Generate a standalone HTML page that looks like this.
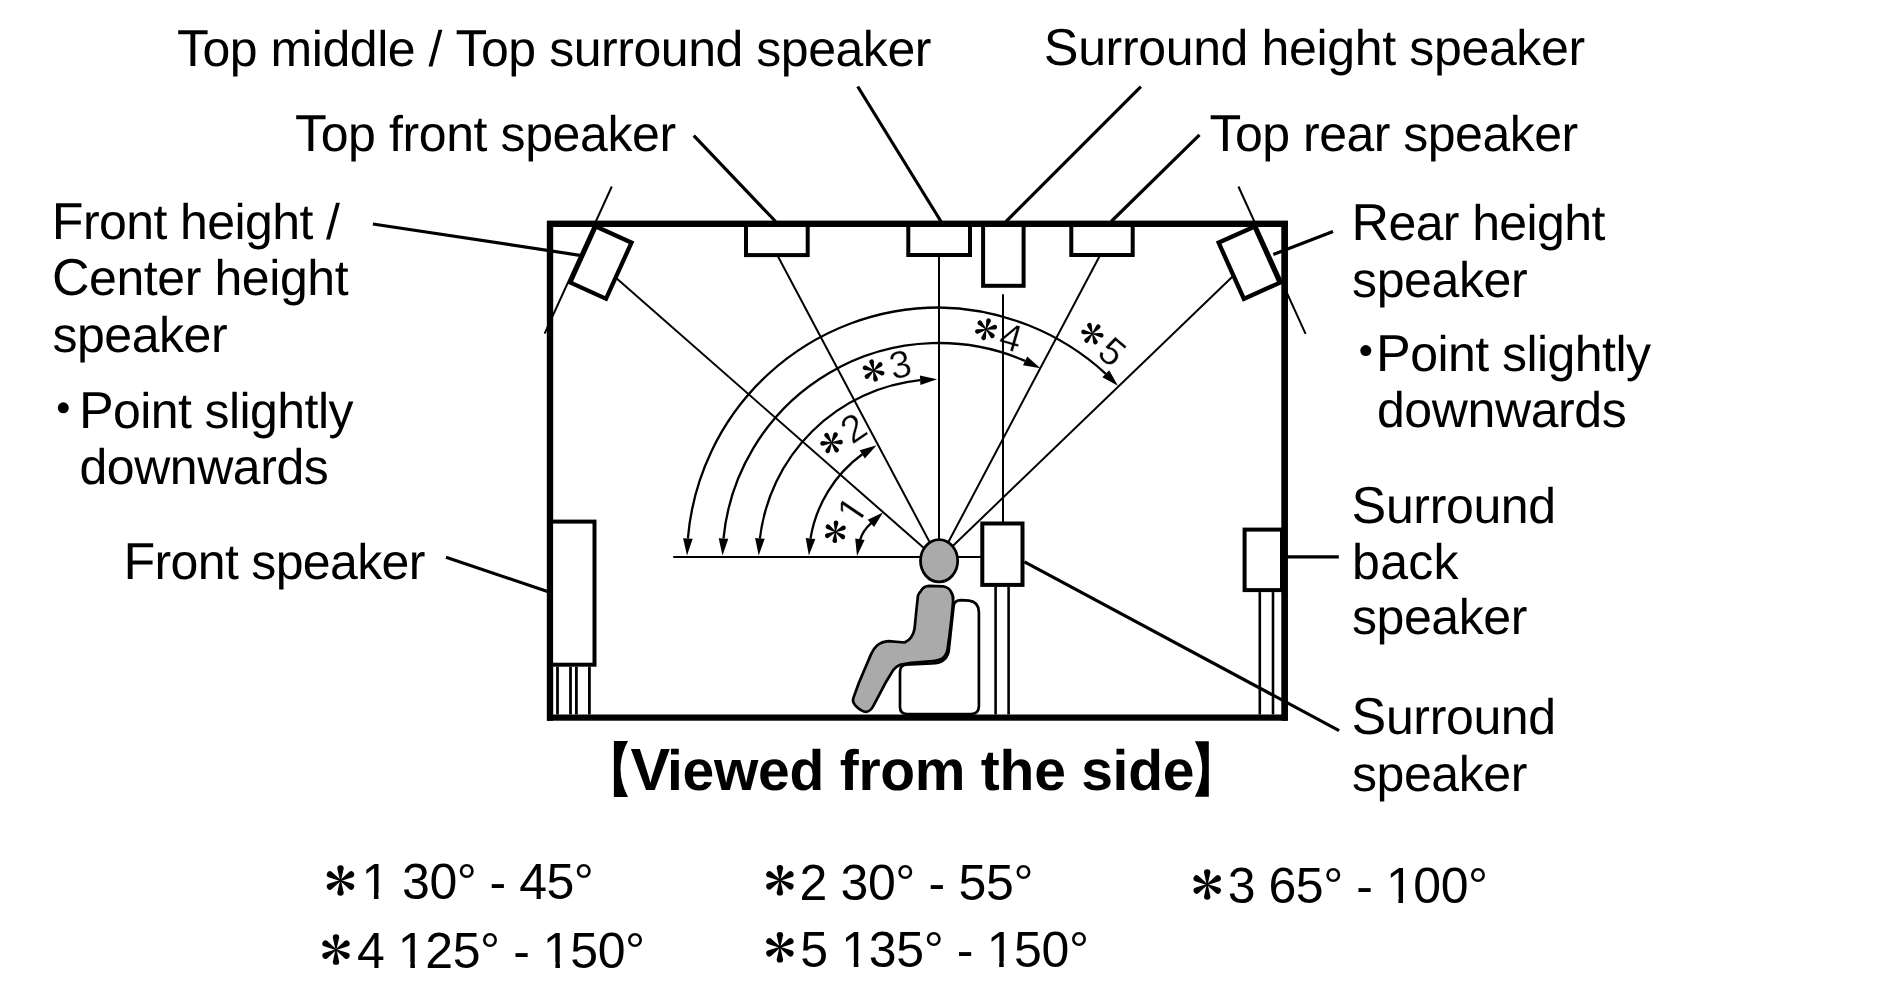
<!DOCTYPE html>
<html><head><meta charset="utf-8"><style>
html,body{margin:0;padding:0;background:#fff;overflow:hidden;}
svg{display:block;}
text{font-family:"Liberation Sans", sans-serif;fill:#000;}
</style></head><body>
<svg width="1904" height="997" viewBox="0 0 1904 997">
<rect width="1904" height="997" fill="#fff"/>
<defs><g id="ast"><path d="M-0.035,0 L-0.205,-0.78 A0.205,0.205 0 1 1 0.205,-0.78 L0.035,0 Z" transform="rotate(0)"/><path d="M-0.035,0 L-0.205,-0.78 A0.205,0.205 0 1 1 0.205,-0.78 L0.035,0 Z" transform="rotate(60)"/><path d="M-0.035,0 L-0.205,-0.78 A0.205,0.205 0 1 1 0.205,-0.78 L0.035,0 Z" transform="rotate(120)"/><path d="M-0.035,0 L-0.205,-0.78 A0.205,0.205 0 1 1 0.205,-0.78 L0.035,0 Z" transform="rotate(180)"/><path d="M-0.035,0 L-0.205,-0.78 A0.205,0.205 0 1 1 0.205,-0.78 L0.035,0 Z" transform="rotate(240)"/><path d="M-0.035,0 L-0.205,-0.78 A0.205,0.205 0 1 1 0.205,-0.78 L0.035,0 Z" transform="rotate(300)"/></g></defs>
<path transform="translate(1112.2,351.9) rotate(40.5)" d="M9.1268310546875 4.4271240234375Q9.1268310546875 8.6192626953125 6.635986328125 11.0255126953125Q4.1451416015625 13.4317626953125 -0.2725830078125 13.4317626953125Q-3.9759521484375 13.4317626953125 -6.2506103515625 11.8150634765625Q-8.5252685546875 10.1983642578125 -9.1268310546875 7.1341552734375L-5.7054443359375 6.7393798828125Q-4.6339111328125 10.6683349609375 -0.1973876953125 10.6683349609375Q2.5284423828125 10.6683349609375 4.0699462890625 9.0234375Q5.6114501953125 7.3785400390625 5.6114501953125 4.5023193359375Q5.6114501953125 2.0020751953125 4.060546875 0.4605712890625Q2.5096435546875 -1.0809326171875 -0.1221923828125 -1.0809326171875Q-1.4945068359375 -1.0809326171875 -2.6788330078125 -0.6485595703125Q-3.8631591796875 -0.2161865234375 -5.0474853515625 0.8177490234375H-8.3560791015625L-7.4725341796875 -13.4317626953125H7.5853271484375V-10.5555419921875H-4.3895263671875L-4.8970947265625 -2.1524658203125Q-2.6976318359375 -3.8443603515625 0.5733642578125 -3.8443603515625Q4.4835205078125 -3.8443603515625 6.80517578125 -1.5509033203125Q9.1268310546875 0.7425537109375 9.1268310546875 4.4271240234375Z" fill="#000" stroke="#fff" stroke-width="0.5"/>
<use href="#ast" transform="translate(1092.4,333.6) rotate(40.50) scale(11.5)"/>
<path transform="translate(1010.9,337.3) rotate(16.0)" d="M5.97802734375 7.2469482421875V13.2437744140625H2.7822265625V7.2469482421875H-9.7001953125V4.6151123046875L2.425048828125 -13.2437744140625H5.97802734375V4.5775146484375H9.7001953125V7.2469482421875ZM2.7822265625 -9.4276123046875Q2.74462890625 -9.3148193359375 2.255859375 -8.4312744140625Q1.76708984375 -7.5477294921875 1.522705078125 -7.1905517578125L-5.263671875 2.8104248046875L-6.27880859375 4.2015380859375L-6.57958984375 4.5775146484375H2.7822265625Z" fill="#000" stroke="#fff" stroke-width="0.5"/>
<use href="#ast" transform="translate(986.1,329.3) rotate(16.00) scale(11.5)"/>
<path transform="translate(900.1,364.5) rotate(-12.8)" d="M9.1268310546875 5.9404296875Q9.1268310546875 9.606201171875 6.7957763671875 11.61767578125Q4.4647216796875 13.629150390625 0.1409912109375 13.629150390625Q-3.8819580078125 13.629150390625 -6.27880859375 11.8150634765625Q-8.6756591796875 10.0009765625 -9.1268310546875 6.447998046875L-5.6302490234375 6.12841796875Q-4.9534912109375 10.828125 0.1409912109375 10.828125Q2.6976318359375 10.828125 4.154541015625 9.568603515625Q5.6114501953125 8.30908203125 5.6114501953125 5.82763671875Q5.6114501953125 3.665771484375 3.94775390625 2.4532470703125Q2.2840576171875 1.24072265625 -0.8553466796875 1.24072265625H-2.7728271484375V-1.69189453125H-0.9305419921875Q1.8516845703125 -1.69189453125 3.3837890625 -2.9044189453125Q4.9158935546875 -4.116943359375 4.9158935546875 -6.260009765625Q4.9158935546875 -8.38427734375 3.665771484375 -9.6156005859375Q2.4156494140625 -10.846923828125 -0.0469970703125 -10.846923828125Q-2.2840576171875 -10.846923828125 -3.665771484375 -9.7001953125Q-5.0474853515625 -8.553466796875 -5.2730712890625 -6.466796875L-8.6756591796875 -6.72998046875Q-8.2996826171875 -9.982177734375 -5.97802734375 -11.8056640625Q-3.6563720703125 -13.629150390625 -0.0093994140625 -13.629150390625Q3.9759521484375 -13.629150390625 6.184814453125 -11.7774658203125Q8.3936767578125 -9.92578125 8.3936767578125 -6.6171875Q8.3936767578125 -4.079345703125 6.974365234375 -2.4908447265625Q5.5550537109375 -0.90234375 2.8480224609375 -0.33837890625V-0.26318359375Q5.8182373046875 0.056396484375 7.4725341796875 1.7294921875Q9.1268310546875 3.402587890625 9.1268310546875 5.9404296875Z" fill="#000" stroke="#fff" stroke-width="0.5"/>
<use href="#ast" transform="translate(873.6,370.5) rotate(-12.76) scale(11.5)"/>
<path transform="translate(853.4,427.9) rotate(-34.2)" d="M-8.7696533203125 13.441162109375V11.0537109375Q-7.8109130859375 8.854248046875 -6.42919921875 7.1717529296875Q-5.0474853515625 5.4892578125 -3.5247802734375 4.1263427734375Q-2.0020751953125 2.763427734375 -0.507568359375 1.597900390625Q0.9869384765625 0.432373046875 2.1900634765625 -0.733154296875Q3.3931884765625 -1.898681640625 4.1357421875 -3.177001953125Q4.8782958984375 -4.455322265625 4.8782958984375 -6.072021484375Q4.8782958984375 -8.252685546875 3.5999755859375 -9.455810546875Q2.3216552734375 -10.658935546875 0.0469970703125 -10.658935546875Q-2.1148681640625 -10.658935546875 -3.515380859375 -9.4840087890625Q-4.9158935546875 -8.30908203125 -5.1602783203125 -6.184814453125L-8.6192626953125 -6.50439453125Q-8.2432861328125 -9.681396484375 -5.921630859375 -11.561279296875Q-3.5999755859375 -13.441162109375 0.0469970703125 -13.441162109375Q4.0511474609375 -13.441162109375 6.20361328125 -11.5518798828125Q8.3560791015625 -9.66259765625 8.3560791015625 -6.184814453125Q8.3560791015625 -4.643310546875 7.651123046875 -3.12060546875Q6.9461669921875 -1.597900390625 5.5550537109375 -0.0751953125Q4.1639404296875 1.447509765625 0.2349853515625 4.643310546875Q-1.9268798828125 6.410400390625 -3.2052001953125 7.8297119140625Q-4.4835205078125 9.2490234375 -5.0474853515625 10.56494140625H8.7696533203125V13.441162109375Z" fill="#000" stroke="#fff" stroke-width="0.5"/>
<use href="#ast" transform="translate(831.6,442.7) rotate(-34.17) scale(11.5)"/>
<path transform="translate(850.7,511.8) rotate(-56.0)" d="M1.29,13.24 L1.29,-10.01 L-4.69,-5.74 L-4.69,-8.94 L1.57,-13.24 L4.69,-13.24 L4.69,13.24Z" fill="#000" stroke="#fff" stroke-width="0.5"/>
<use href="#ast" transform="translate(835.4,531.8) rotate(-56.00) scale(11.5)"/>
<line x1="600.8" y1="264.6" x2="939.0" y2="561.2" stroke="#000" stroke-width="2" stroke-linecap="butt"/>
<line x1="777.2" y1="255.0" x2="939.0" y2="559.8" stroke="#000" stroke-width="2" stroke-linecap="butt"/>
<line x1="939.0" y1="255.0" x2="939.0" y2="560.0" stroke="#000" stroke-width="2" stroke-linecap="butt"/>
<line x1="1100.2" y1="255.0" x2="939.0" y2="559.8" stroke="#000" stroke-width="2" stroke-linecap="butt"/>
<line x1="1249.5" y1="260.3" x2="939.0" y2="559.3" stroke="#000" stroke-width="2" stroke-linecap="butt"/>
<line x1="1003.0" y1="294.2" x2="1003.0" y2="522.0" stroke="#000" stroke-width="2" stroke-linecap="butt"/>
<line x1="673.2" y1="556.9" x2="981.0" y2="556.9" stroke="#000" stroke-width="2" stroke-linecap="butt"/>
<path d="M687.9,538.4 A252.0,252.0 0 0 1 939.00,307.50 A252.07,252.07 0 0 1 1105.8,373.8" fill="none" stroke="#000" stroke-width="2.3"/>
<polygon points="687.0,555.4 683.1,538.2 692.7,538.7" fill="#000"/>
<polygon points="1117.9,385.7 1102.4,377.2 1109.2,370.3" fill="#000"/>
<path d="M723.5,538.4 A216.5,216.5 0 0 1 1025.1,360.9" fill="none" stroke="#000" stroke-width="2.3"/>
<polygon points="722.5,555.4 718.7,538.2 728.3,538.7" fill="#000"/>
<polygon points="1040.4,368.2 1023.0,365.2 1027.2,356.5" fill="#000"/>
<path d="M759.9,538.5 A180.3,180.3 0 0 1 920.1,380.2" fill="none" stroke="#000" stroke-width="2.3"/>
<polygon points="758.7,555.4 755.1,538.1 764.7,538.8" fill="#000"/>
<polygon points="937.1,379.2 920.4,385.0 919.9,375.4" fill="#000"/>
<path d="M810.5,538.5 A130.2,130.2 0 0 1 862.3,454.3" fill="none" stroke="#000" stroke-width="2.3"/>
<polygon points="808.9,555.4 805.7,538.0 815.3,538.9" fill="#000"/>
<polygon points="876.6,445.2 864.8,458.4 859.7,450.3" fill="#000"/>
<path d="M859.9,540.5 Q862.6,530.6 871.5,522.8" fill="none" stroke="#000" stroke-width="2.3"/>
<polygon points="857.0,555.9 855.2,538.4 864.6,540.0" fill="#000"/>
<polygon points="883.0,512.4 874.1,527.0 867.7,519.8" fill="#000"/>
<line x1="857.7" y1="86.5" x2="941.0" y2="221.5" stroke="#000" stroke-width="3.2" stroke-linecap="butt"/>
<line x1="1140.9" y1="86.6" x2="1006.1" y2="221.5" stroke="#000" stroke-width="3.2" stroke-linecap="butt"/>
<line x1="693.8" y1="135.7" x2="775.6" y2="221.5" stroke="#000" stroke-width="3.2" stroke-linecap="butt"/>
<line x1="1199.5" y1="134.8" x2="1111.2" y2="221.5" stroke="#000" stroke-width="3.2" stroke-linecap="butt"/>
<line x1="372.9" y1="224.0" x2="580.0" y2="255.3" stroke="#000" stroke-width="3.2" stroke-linecap="butt"/>
<line x1="1333.0" y1="231.4" x2="1273.3" y2="254.4" stroke="#000" stroke-width="3.2" stroke-linecap="butt"/>
<line x1="446.0" y1="557.2" x2="549.0" y2="592.0" stroke="#000" stroke-width="3.2" stroke-linecap="butt"/>
<line x1="1287.8" y1="556.8" x2="1338.8" y2="556.8" stroke="#000" stroke-width="3.2" stroke-linecap="butt"/>
<line x1="1024.5" y1="561.9" x2="1339.1" y2="730.6" stroke="#000" stroke-width="3.2" stroke-linecap="butt"/>
<rect x="550" y="223.9" width="734.7" height="493.7" fill="none" stroke="#000" stroke-width="6.2"/>
<rect x="746" y="225" width="61.7" height="30.1" fill="#fff" stroke="#000" stroke-width="4"/>
<rect x="908.3" y="225" width="61.7" height="30.0" fill="#fff" stroke="#000" stroke-width="4"/>
<rect x="983.1" y="225" width="40.5" height="60.8" fill="#fff" stroke="#000" stroke-width="4"/>
<rect x="1071.3" y="225" width="61.4" height="30.0" fill="#fff" stroke="#000" stroke-width="4"/>
<line x1="547" y1="223.9" x2="1287.8" y2="223.9" stroke="#000" stroke-width="6.2"/>
<rect x="-19.65" y="-30.8" width="39.3" height="61.6" fill="#fff" stroke="#000" stroke-width="4.3" transform="translate(600.85,262.6) rotate(24.4)"/>
<rect x="-19.65" y="-30.8" width="39.3" height="61.6" fill="#fff" stroke="#000" stroke-width="4.3" transform="translate(1249.2,262.7) rotate(-24.2)"/>
<line x1="611.8" y1="186.5" x2="544.6" y2="333.6" stroke="#000" stroke-width="2" stroke-linecap="butt"/>
<line x1="1238.4" y1="186.5" x2="1305.6" y2="333.8" stroke="#000" stroke-width="2" stroke-linecap="butt"/>
<rect x="551" y="521.6" width="43.5" height="143.1" fill="#fff" stroke="#000" stroke-width="4"/>
<rect x="982.3" y="523.5" width="40.2" height="61.4" fill="#fff" stroke="#000" stroke-width="4"/>
<rect x="1244.6" y="529.6" width="37.4" height="60.5" fill="#fff" stroke="#000" stroke-width="4"/>
<line x1="550" y1="221" x2="550" y2="720.7" stroke="#000" stroke-width="6.2"/>
<line x1="1284.65" y1="221" x2="1284.65" y2="720.7" stroke="#000" stroke-width="6.3"/>
<line x1="557.5" y1="666.7" x2="557.5" y2="714.5" stroke="#000" stroke-width="2.8" stroke-linecap="butt"/>
<line x1="570.5" y1="666.7" x2="570.5" y2="714.5" stroke="#000" stroke-width="2.8" stroke-linecap="butt"/>
<line x1="576.4" y1="666.7" x2="576.4" y2="714.5" stroke="#000" stroke-width="2.8" stroke-linecap="butt"/>
<line x1="589.4" y1="666.7" x2="589.4" y2="714.5" stroke="#000" stroke-width="2.8" stroke-linecap="butt"/>
<line x1="995.6" y1="586.9" x2="995.6" y2="714.5" stroke="#000" stroke-width="2.6" stroke-linecap="butt"/>
<line x1="1008.6" y1="586.9" x2="1008.6" y2="714.5" stroke="#000" stroke-width="2.6" stroke-linecap="butt"/>
<line x1="1259.8" y1="592.1" x2="1259.8" y2="714.5" stroke="#000" stroke-width="2.6" stroke-linecap="butt"/>
<line x1="1273.0" y1="592.1" x2="1273.0" y2="714.5" stroke="#000" stroke-width="2.6" stroke-linecap="butt"/>
<path d="M906,664.6 L932,663.5 Q945.6,663.4 948.6,652 L953.6,606 Q954.5,600.2 961,600.2 L969,600.6 Q978.6,601.8 978.9,612 L978.9,706 Q978.9,714 971,714 L907,714 Q900,714 900,707 L900,672 Q900,665 906,664.6 Z" fill="#fff" stroke="#000" stroke-width="2.7"/>
<path d="M920.8,591.2 Q923.5,586 929.2,585.9 L943.2,586.3 Q949,587.5 951,591.9 Q953.6,595.5 953.1,601 L951.7,616.5 L949.4,636 L947.6,649 Q946.6,655.6 941.8,658.8 Q937,661.2 929.2,661.4 L911,662.8 L899.7,664.9 Q896,666.5 893.4,669.8 L885.7,682.5 L873.1,706.3 Q871,710.8 866.5,711.8 Q861,711.8 855.5,705.6 Q852,702 853.4,697.9 L859,682.5 L871,654.4 Q873.5,648.5 877.3,645.3 Q882,641.5 888.5,641.1 L904.6,642.5 Q909,640.5 911,637.5 Q913.6,634 914.5,629.1 L916.6,608.1 L918,595.4 Q918.8,593 920.8,591.2 Z" fill="#aaaaaa" stroke="#000" stroke-width="2.7" stroke-linejoin="round"/>
<ellipse cx="939.1" cy="560.8" rx="18.6" ry="21.1" fill="#aaaaaa" stroke="#000" stroke-width="2.8"/>
<text x="176.9" y="65.7" font-size="50" letter-spacing="-0.456" text-rendering="geometricPrecision" xml:space="preserve"><tspan font-size="52">T</tspan><tspan dx="-5.76">op middle / </tspan><tspan font-size="52">T</tspan><tspan dx="-5.76">op surround speaker</tspan></text>
<text x="1043.8" y="65.4" font-size="50" letter-spacing="-0.345" text-rendering="geometricPrecision" xml:space="preserve"><tspan font-size="52">S</tspan>urround height speaker</text>
<text x="295.0" y="150.9" font-size="50" letter-spacing="-0.387" text-rendering="geometricPrecision" xml:space="preserve"><tspan font-size="52">T</tspan><tspan dx="-5.76">op front speaker</tspan></text>
<text x="1209.5" y="150.9" font-size="50" letter-spacing="-0.5" text-rendering="geometricPrecision" xml:space="preserve"><tspan font-size="52">T</tspan><tspan dx="-5.76">op rear speaker</tspan></text>
<text x="51.7" y="239.1" font-size="50" letter-spacing="-0.585" text-rendering="geometricPrecision" xml:space="preserve"><tspan font-size="52">F</tspan>ront height /</text>
<text x="51.9" y="295.4" font-size="50" letter-spacing="-0.408" text-rendering="geometricPrecision" xml:space="preserve"><tspan font-size="52">C</tspan>enter height</text>
<text x="52.4" y="351.6" font-size="50" letter-spacing="-0.45" text-rendering="geometricPrecision" xml:space="preserve">speaker</text>
<text x="78.9" y="427.9" font-size="50" letter-spacing="-0.577" text-rendering="geometricPrecision" xml:space="preserve"><tspan font-size="52">P</tspan>oint slightly</text>
<text x="79.4" y="483.6" font-size="50" letter-spacing="-0.438" text-rendering="geometricPrecision" xml:space="preserve">downwards</text>
<text x="1351.5" y="240.2" font-size="50" letter-spacing="-0.61" text-rendering="geometricPrecision" xml:space="preserve"><tspan font-size="52">R</tspan>ear height</text>
<text x="1352.0" y="296.6" font-size="50" letter-spacing="-0.367" text-rendering="geometricPrecision" xml:space="preserve">speaker</text>
<text x="1376.1" y="370.5" font-size="50" letter-spacing="-0.546" text-rendering="geometricPrecision" xml:space="preserve"><tspan font-size="52">P</tspan>oint slightly</text>
<text x="1376.9" y="426.5" font-size="50" letter-spacing="-0.375" text-rendering="geometricPrecision" xml:space="preserve">downwards</text>
<text x="123.5" y="579.2" font-size="50" letter-spacing="-0.658" text-rendering="geometricPrecision" xml:space="preserve"><tspan font-size="52">F</tspan>ront speaker</text>
<text x="1351.6" y="522.8" font-size="50" letter-spacing="-0.357" text-rendering="geometricPrecision" xml:space="preserve"><tspan font-size="52">S</tspan>urround</text>
<text x="1352.1" y="578.8" font-size="50" letter-spacing="0.3" text-rendering="geometricPrecision" xml:space="preserve">back</text>
<text x="1352.0" y="634.3" font-size="50" letter-spacing="-0.433" text-rendering="geometricPrecision" xml:space="preserve">speaker</text>
<text x="1351.6" y="734.2" font-size="50" letter-spacing="-0.357" text-rendering="geometricPrecision" xml:space="preserve"><tspan font-size="52">S</tspan>urround</text>
<text x="1352.0" y="790.5" font-size="50" letter-spacing="-0.433" text-rendering="geometricPrecision" xml:space="preserve">speaker</text>
<text x="630.4" y="790.1" font-size="57" font-weight="bold" letter-spacing="-0.263" text-rendering="geometricPrecision" xml:space="preserve"><tspan font-size="59.5">V</tspan><tspan dx="-2.8">iewed from the side</tspan></text>
<text x="361.39" y="899.2" font-size="50" letter-spacing="-0.494" xml:space="preserve">1 30° - 45°</text>
<text x="356.95" y="968.2" font-size="50" letter-spacing="-0.402" xml:space="preserve">4 125° - 150°</text>
<text x="799.39" y="899.6" font-size="50" letter-spacing="-0.334" xml:space="preserve">2 30° - 55°</text>
<text x="800.3" y="967.0" font-size="50" letter-spacing="-0.355" xml:space="preserve">5 135° - 150°</text>
<text x="1227.7" y="903.4" font-size="50" letter-spacing="-0.441" xml:space="preserve">3 65° - 100°</text>
<rect x="364.08" y="893" width="9.84" height="7" fill="#fff"/>
<rect x="378.43" y="893" width="9.45" height="7" fill="#fff"/>
<rect x="400.53" y="962" width="9.84" height="7" fill="#fff"/>
<rect x="414.89" y="962" width="9.45" height="7" fill="#fff"/>
<rect x="545.58" y="962" width="9.84" height="7" fill="#fff"/>
<rect x="559.93" y="962" width="9.45" height="7" fill="#fff"/>
<rect x="843.97" y="961" width="9.84" height="7" fill="#fff"/>
<rect x="858.33" y="961" width="9.45" height="7" fill="#fff"/>
<rect x="989.34" y="961" width="9.84" height="7" fill="#fff"/>
<rect x="1003.69" y="961" width="9.45" height="7" fill="#fff"/>
<rect x="1388.59" y="897" width="9.84" height="7" fill="#fff"/>
<rect x="1402.95" y="897" width="9.45" height="7" fill="#fff"/>
<circle cx="63.3" cy="407.8" r="5.5" fill="#000"/>
<circle cx="1365.8" cy="350.6" r="5.5" fill="#000"/>
<use href="#ast" transform="translate(340.5,880.5) rotate(0) scale(15.5)"/>
<use href="#ast" transform="translate(336,949.6) rotate(0) scale(15.5)"/>
<use href="#ast" transform="translate(779.9,880.3) rotate(0) scale(15.5)"/>
<use href="#ast" transform="translate(779.9,947.3) rotate(0) scale(15.5)"/>
<use href="#ast" transform="translate(1207.2,884.5) rotate(0) scale(15.5)"/>
<path d="M613.9,741 L628,741 Q613,769 628,796.9 L613.9,796.9 Z" fill="#000"/>
<path d="M1208.8,741.2 L1194.9,741.2 Q1209.6,769 1194.9,796.8 L1208.8,796.8 Z" fill="#000"/>
</svg>
</body></html>
